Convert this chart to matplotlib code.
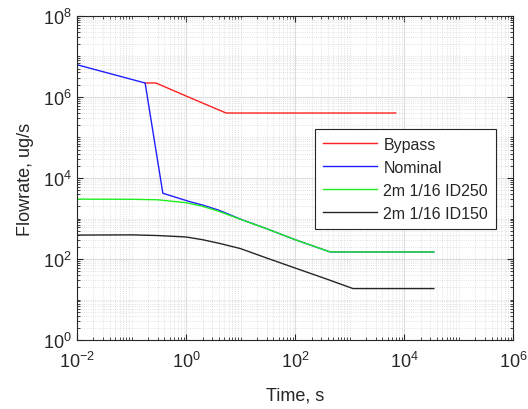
import matplotlib
matplotlib.use("Agg")
import matplotlib.pyplot as plt
from matplotlib.ticker import LogLocator, NullFormatter

plt.rcParams['font.family'] = ['Liberation Sans', 'DejaVu Sans']
plt.rcParams['mathtext.fontset'] = 'custom'
plt.rcParams['mathtext.rm'] = 'Liberation Sans'

# values (time in s, flowrate in ug/s)
bypass_t = [0.177, 0.28, 1.0, 5.4, 7000]
bypass_q = [2.2e6, 2.2e6, 1.05e6, 4.0e5, 4.0e5]

nominal_t = [0.01, 0.177, 0.374, 1.17, 2.0, 4.0, 10, 30, 100, 435, 35000]
nominal_q = [6.2e6, 2.2e6, 4200, 2600, 2150, 1600, 960, 560, 300, 150, 150]

id250_t = [0.01, 0.1, 0.3, 1.0, 2.0, 4.0, 10, 30, 100, 435, 35000]
id250_q = [3000, 2980, 2900, 2450, 2000, 1500, 950, 560, 300, 150, 150]

id150_t = [0.01, 0.1, 0.3, 1.0, 2.0, 4.0, 9.8, 30, 100, 380, 1150, 35000]
id150_q = [390, 395, 380, 350, 300, 245, 182, 106, 60, 32, 18.7, 18.7]

labels = ['Bypass', 'Nominal', '2m 1/16 ID250', '2m 1/16 ID150']

fig = plt.figure(figsize=(5.28, 4.10), dpi=100)
ax = fig.add_axes([0.146, 0.168, 0.826, 0.791])

ax.plot(bypass_t, bypass_q, color='#ff2020', lw=1.0, label=labels[0])
ax.plot(nominal_t, nominal_q, color='#2020ff', lw=1.0, label=labels[1])
ax.plot(id250_t, id250_q, color='#20ee20', lw=1.0, label=labels[2])
ax.plot(id150_t, id150_q, color='#262626', lw=1.0, label=labels[3])

ax.set_xscale('log')
ax.set_yscale('log')
ax.set_xlim(1e-2, 1e6)
ax.set_ylim(1e0, 1e8)
ax.set_xticks([1e-2, 1e0, 1e2, 1e4, 1e6])
ax.set_yticks([1e0, 1e2, 1e4, 1e6, 1e8])
ax.xaxis.set_minor_locator(LogLocator(base=10, subs=range(1, 10), numticks=40))
ax.yaxis.set_minor_locator(LogLocator(base=10, subs=range(1, 10), numticks=40))
ax.xaxis.set_minor_formatter(NullFormatter())
ax.yaxis.set_minor_formatter(NullFormatter())

ax.grid(True, which='major', color='#dcdcdc', lw=0.8, linestyle='-')
ax.grid(True, which='minor', color='#d8d8d8', lw=0.6, linestyle=':')
ax.set_axisbelow(True)

ax.tick_params(which='both', direction='in', top=True, right=True,
               colors='#262626', labelcolor='#262626')
ax.tick_params(which='major', length=4, labelsize=13)
ax.tick_params(axis='x', which='major', pad=8)
ax.tick_params(axis='y', which='major', pad=4)
ax.tick_params(which='minor', length=2)
for s in ax.spines.values():
    s.set_color('#262626')
    s.set_linewidth(0.8)

ax.set_xlabel('Time, s', fontsize=13, color='#262626', labelpad=11)
ax.set_ylabel('Flowrate, ug/s', fontsize=13, color='#262626', labelpad=6)

leg = ax.legend(loc='upper right', bbox_to_anchor=(0.961, 0.652), fontsize=11.5,
                frameon=True, fancybox=False, framealpha=1, edgecolor='#262626',
                handlelength=3.4, labelspacing=0.5, borderpad=0.5, handletextpad=0.4,
                borderaxespad=0)
leg.get_frame().set_linewidth(0.8)
for t in leg.get_texts():
    t.set_color('#262626')

fig.savefig('out.png', dpi=100)
plt.close(fig)
